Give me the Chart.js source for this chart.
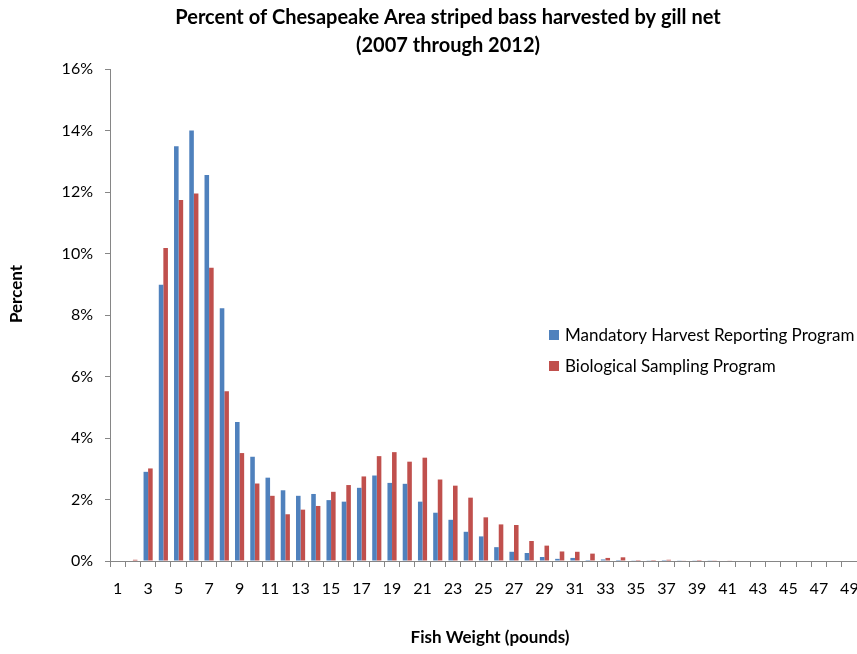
<!DOCTYPE html>
<html>
<head>
<meta charset="utf-8">
<script src="https://cdn.jsdelivr.net/npm/chart.js@4/dist/chart.umd.min.js"></script>
<style>
html,body{margin:0;padding:0;background:#fff;}
#wrap{width:857px;height:654px;position:relative;}
</style>
</head>
<body>
<div id="wrap"><canvas id="c" width="857" height="654"></canvas></div>
<script>
const categories = ["1","2","3","4","5","6","7","8","9","10","11","12","13","14","15","16","17","18","19","20","21","22","23","24","25","26","27","28","29","30","31","32","33","34","35","36","37","38","39","40","41","42","43","44","45","46","47","48","49"];
const mandatoryHarvest = [0,0,2.90,8.98,13.49,14.00,12.55,8.22,4.52,3.39,2.71,2.30,2.12,2.18,1.98,1.93,2.38,2.78,2.54,2.51,1.93,1.57,1.34,0.95,0.80,0.45,0.30,0.26,0.13,0.07,0.10,0.03,0.05,0.03,0.01,0.01,0.03,0.01,0.01,0.01,0,0,0,0,0,0,0,0,0];
const biologicalSampling = [0,0.04,3.01,10.18,11.74,11.95,9.54,5.52,3.51,2.52,2.12,1.52,1.67,1.79,2.25,2.47,2.75,3.41,3.54,3.23,3.36,2.65,2.45,2.06,1.42,1.19,1.17,0.65,0.50,0.31,0.30,0.24,0.10,0.12,0.03,0.03,0.04,0.02,0.03,0.01,0.02,0,0,0,0,0,0,0,0];
const seriesNames = ["Mandatory Harvest Reporting Program","Biological Sampling Program"];
const titleLines = ["Percent of Chesapeake Area striped bass harvested by gill net","(2007 through 2012)"];
const xTitle = "Fish Weight (pounds)";
const yTitle = "Percent";
const yTicks = [0,2,4,6,8,10,12,14,16];

const FONT = "Lato";
const AXIS = "#868686";

const overlay = {
  id: 'overlay',
  afterDraw(chart) {
    const ctx = chart.ctx;
    const a = chart.chartArea;
    ctx.save();
    ctx.fillStyle = '#000';
    ctx.textAlign = 'center';
    ctx.textBaseline = 'middle';
    ctx.font = 'bold 20px ' + FONT;
    ctx.fillText(titleLines[0], 448, 18);
    ctx.fillText(titleLines[1], 448, 46);
    ctx.font = 'bold 17px ' + FONT;
    ctx.fillText(xTitle, 490, 638);
    ctx.save();
    ctx.translate(17, 294);
    ctx.rotate(-Math.PI / 2);
    ctx.fillText(yTitle, 0, 0);
    ctx.restore();
    // legend
    ctx.textAlign = 'left';
    ctx.font = '17px ' + FONT;
    chart.data.datasets.forEach((ds, i) => {
      const cy = 335 + i * 31;
      ctx.fillStyle = ds.backgroundColor;
      ctx.fillRect(549, cy - 5, 10, 10);
      ctx.fillStyle = '#000';
      ctx.fillText(ds.label, 565, cy + 1);
    });
    ctx.restore();
  }
};

new Chart(document.getElementById('c'), {
  type: 'bar',
  data: {
    labels: categories,
    datasets: [
      { label: seriesNames[0], data: mandatoryHarvest, backgroundColor: '#4F81BD', borderWidth: 0 },
      { label: seriesNames[1], data: biologicalSampling, backgroundColor: '#C0504D', borderWidth: 0 }
    ]
  },
  options: {
    responsive: false,
    devicePixelRatio: 1,
    animation: false,
    layout: { padding: { top: 69, right: 0, left: 0, bottom: 0 } },
    datasets: { bar: { categoryPercentage: 0.6, barPercentage: 1.0 } },
    plugins: { legend: { display: false }, title: { display: false }, tooltip: { enabled: false } },
    scales: {
      x: {
        grid: { display: true, drawOnChartArea: false, drawTicks: true, tickLength: 6, color: AXIS, offset: true },
        border: { display: true, color: AXIS, width: 1 },
        ticks: {
          color: '#000', font: { family: FONT, size: 16 }, autoSkip: false, maxRotation: 0, padding: 12,
          callback: function(v, i) { return i % 2 === 0 ? categories[i] : ''; }
        },
        afterFit(s) { s.height = 93; s.paddingRight = 0; s.paddingLeft = 0; }
      },
      y: {
        min: 0, max: 16,
        grid: { display: true, drawOnChartArea: false, drawTicks: true, tickLength: 5, color: AXIS },
        border: { display: true, color: AXIS, width: 1 },
        afterBuildTicks(s) { s.ticks = yTicks.map(v => ({ value: v })); },
        ticks: { color: '#000', font: { family: FONT, size: 16 }, padding: 12, callback: v => v + '%' },
        afterFit(s) { s.width = 110; s.paddingTop = 0; s.paddingBottom = 0; }
      }
    }
  },
  plugins: [overlay]
});
</script>
</body>
</html>
